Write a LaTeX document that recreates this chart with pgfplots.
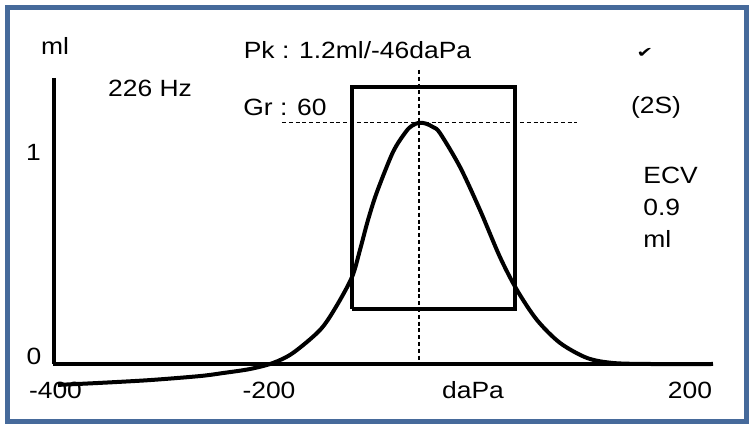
\documentclass[border=0pt]{standalone}
\usepackage{pgfplots}
\pgfplotsset{compat=1.18}
\usepackage{graphicx}
\usepackage{fontspec}
\setmainfont{Liberation Sans}
\newfontfamily\dejavu{DejaVu Sans}
\definecolor{framecol}{RGB}{70,106,155}
\newcommand{\T}[1]{\scalebox{1.125}[1]{#1}}
\tikzset{lbl/.style={inner sep=0pt, font=\fontsize{11.75bp}{14bp}\selectfont}}
\begin{document}
\begin{tikzpicture}
\begin{axis}[
    hide axis,
    scale only axis,
    width=374.5bp, height=212.5bp,
    xmin=-452.05, xmax=256.78,
    ymin=-0.3035, ymax=1.8109,
    clip=false,
    at={(0,0)}, anchor=south west,
]
% page and frame
\path (rel axis cs:0,0) rectangle (rel axis cs:1,1);
\draw[framecol, line width=2.5bp] (rel axis cs:0.0100,0.0094) rectangle (rel axis cs:0.9960,0.9824);

% axes
\addplot[black, line width=1.8bp] coordinates {(-401,1.423) (-401,0)};
\addplot[black, line width=2bp] coordinates {(-402,0) (222.7,0)};

% normal region box
\addplot[black, line width=2bp] coordinates {
    (-118.9,0.274) (35.3,0.274) (35.3,1.378) (-118.9,1.378) (-118.9,0.274)
};

% peak guide lines
\addplot[black, line width=0.7bp, dash pattern=on 2bp off 1.4bp] coordinates {(-185.2,1.2) (94.0,1.2)};
\addplot[black, line width=0.7bp, dash pattern=on 2bp off 1.4bp] coordinates {(-55.5,1.463) (-55.5,0)};

% tympanogram
\addplot[black, line width=2bp, smooth] coordinates {
    (-397.2,-0.104) (-357.4,-0.094) (-310.1,-0.080) (-262.8,-0.060)
    (-241.0,-0.045) (-215.5,-0.025) (-193.7,0.005) (-174.8,0.055)
    (-149.2,0.169) (-134.1,0.284) (-118.9,0.433) (-111.4,0.567)
    (-103.8,0.716) (-95.3,0.856) (-80.1,1.055) (-68,1.155)
    (-62,1.186) (-55.5,1.200) (-49,1.196) (-42,1.178)
    (-35.7,1.149) (-16.7,0.980)
    (2.2,0.766) (21.1,0.532) (37.2,0.368) (56.1,0.219)
    (77.9,0.105) (103.5,0.030) (128.1,0.005) (163.1,0.0) (222.7,0.0)
};

% texts
\node[lbl, anchor=base] at (rel axis cs:0.0734,0.8706) {\T{ml}};
\node[lbl, anchor=base] at (rel axis cs:0.2003,0.7718) {\T{226 Hz}};
\node[lbl, anchor=base] at (rel axis cs:0.4773,0.8635) {\T{Pk : 1.2ml/-46daPa}};
\node[lbl, anchor=base] at (rel axis cs:0.3805,0.7271) {\T{Gr : 60}};
\node[inner sep=0pt, anchor=center, font=\dejavu\bfseries\fontsize{9bp}{10bp}\selectfont] at (rel axis cs:0.8611,0.8753) {\scalebox{1.1}[0.8]{✔}};
\node[lbl, anchor=base] at (rel axis cs:0.8758,0.7318) {\T{(2S)}};
\node[lbl, anchor=base west] at (rel axis cs:0.8585,0.5694) {\T{ECV}};
\node[lbl, anchor=base west] at (rel axis cs:0.8585,0.4941) {\T{0.9}};
\node[lbl, anchor=base west] at (rel axis cs:0.8585,0.4188) {\T{ml}};

% tick labels
\node[lbl, anchor=base] at (rel axis cs:0.0454,0.1435) {\T{0}};
\node[lbl, anchor=base] at (rel axis cs:0.0447,0.6212) {\T{1}};
\node[lbl, anchor=base] at (rel axis cs:0.0741,0.0612) {\T{-400}};
\node[lbl, anchor=base] at (rel axis cs:0.3591,0.0612) {\T{-200}};
\node[lbl, anchor=base] at (rel axis cs:0.6315,0.0612) {\T{daPa}};
\node[lbl, anchor=base] at (rel axis cs:0.9212,0.0612) {\T{200}};
\end{axis}
\end{tikzpicture}
\end{document}
